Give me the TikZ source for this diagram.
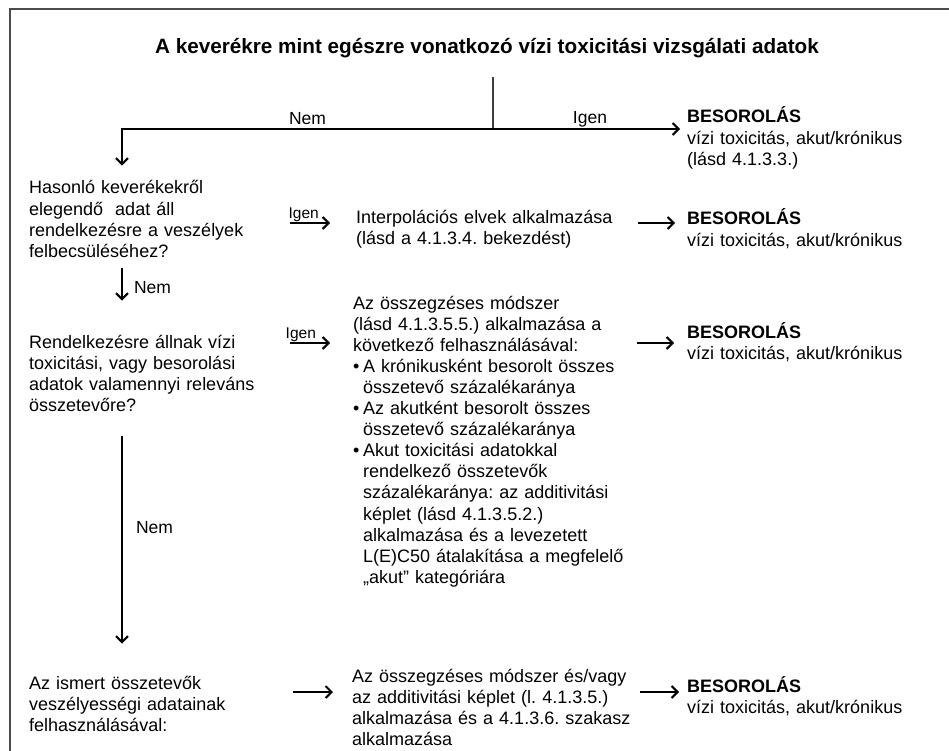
\documentclass[tikz,border=0pt]{standalone}
\usepackage{fontspec}
\setmainfont{Liberation Sans}
\usetikzlibrary{arrows.meta,calc}
\frenchspacing

\tikzset{
  txt/.style={anchor=base west, inner sep=0pt, align=left, font=\fontsize{18}{21.1}\selectfont},
  flow/.style={-{Straight Barb[length=6pt,width=12pt]}, line width=2pt},
  lbl/.style={font=\fontsize{17.5}{20}\selectfont, inner sep=1pt},
  small/.style={font=\fontsize{15.5}{18}\selectfont, inner sep=0.5pt},
}

\newcommand{\besor}{\textbf{BESOROLÁS}\\vízi toxicitás, akut/krónikus}
\newcommand{\bul}{\makebox[10pt][l]{•}}
\newcommand{\ind}{\hspace*{10pt}}

\begin{document}
\begin{tikzpicture}[x=1pt,y=-1pt]
  \useasboundingbox (0,0) rectangle (949,751);
  % Frame
  \draw[black!70, line width=2pt] (9.5,760) -- (9.5,9.5) -- (960,9.5);

  % Title and fork
  \node[anchor=base, inner sep=0pt, font=\fontsize{20.7}{24}\selectfont\bfseries] (title) at (487,54)
    {A keverékre mint egészre vonatkozó vízi toxicitási vizsgálati adatok};
  \coordinate (fork) at (493,77);
  \coordinate (join) at (493,129);
  \coordinate (nemturn) at (122,129);

  % Questions
  \node[txt, text width=222pt] (q1) at (29,194)
    {Hasonló keverékekről\\elegendő\ \ adat áll\\rendelkezésre a veszélyek\\felbecsüléséhez?};
  \node[txt, text width=232pt] (q2) at (29,348)
    {Rendelkezésre állnak vízi\\toxicitási, vagy besorolási\\adatok valamennyi releváns\\összetevőre?};
  \node[txt, text width=205pt] (q3) at (29,689)
    {Az ismert összetevők\\veszélyességi adatainak\\felhasználásával:};

  % Methods
  \node[txt, text width=264pt] (interp) at (356,223)
    {Interpolációs elvek alkalmazása\\(lásd a 4.1.3.4. bekezdést)};
  \node[txt, text width=276pt] (sum) at (353,309)
    {Az összegzéses módszer\\(lásd 4.1.3.5.5.) alkalmazása a\\következő felhasználásával:\\
     \bul A krónikusként besorolt összes\\\ind összetevő százalékaránya\\
     \bul Az akutként besorolt összes\\\ind összetevő százalékaránya\\
     \bul Akut toxicitási adatokkal\\\ind rendelkező összetevők\\\ind százalékaránya: az additivitási\\
     \ind képlet (lásd 4.1.3.5.2.)\\\ind alkalmazása és a levezetett\\\ind L(E)C50 átalakítása a megfelelő\\
     \ind „akut” kategóriára};
  \node[txt, text width=282pt] (sumb) at (352,682)
    {Az összegzéses módszer és/vagy\\az additivitási képlet (l. 4.1.3.5.)\\alkalmazása és a 4.1.3.6. szakasz\\alkalmazása};

  % Results
  \node[txt, text width=222pt] (res0) at (687,123) {\besor\\(lásd 4.1.3.3.)};
  \node[txt, text width=222pt] (res1) at (687,225) {\besor};
  \node[txt, text width=222pt] (res2) at (687,338) {\besor};
  \node[txt, text width=222pt] (res3) at (687,692) {\besor};
  \coordinate (row2) at ([yshift=-5pt]res2.base west);

  % Connectors
  \draw[black!75, line width=1.2pt] (fork) -- (join);
  \draw[flow, shorten >=7pt] (join) -- node[above, lbl] {Igen} (join -| res0.west);
  \draw[flow, shorten >=15pt] (join) -- node[above=2pt, lbl] {Nem} (nemturn) -- (nemturn |- q1.north);

  \draw[flow, shorten <=10pt, shorten >=34pt] (q1.south -| nemturn)
    -- node[right=11pt, pos=0.39, lbl, inner sep=0pt] {Nem} (q2.north -| nemturn);
  \draw[flow, shorten <=24pt, shorten >=32pt] (q2.south -| nemturn)
    -- node[right=13pt, pos=0.44, lbl, inner sep=0pt] {Nem} (q3.north -| nemturn);

  \draw[flow, shorten <=39pt, shorten >=26pt] (q1.east |- interp.base)
    -- node[above, small] {Igen} (interp.base west);
  \draw[flow, shorten <=18pt, shorten >=12pt] (interp.base east) -- (res1.west |- interp.base);

  \draw[flow, shorten <=29pt, shorten >=23pt] (q2.east |- row2)
    -- node[above, pos=0.43, small] {Igen} (sum.west |- row2);
  \draw[flow, shorten <=8pt, shorten >=13pt] (sum.east |- row2) -- (row2);

  \draw[flow, shorten <=59pt, shorten >=19pt] (q3.east |- res3.base) -- (sumb.west |- res3.base);
  \draw[flow, shorten <=6pt, shorten >=8pt] (sumb.east |- res3.base) -- (res3.base west);
\end{tikzpicture}
\end{document}
